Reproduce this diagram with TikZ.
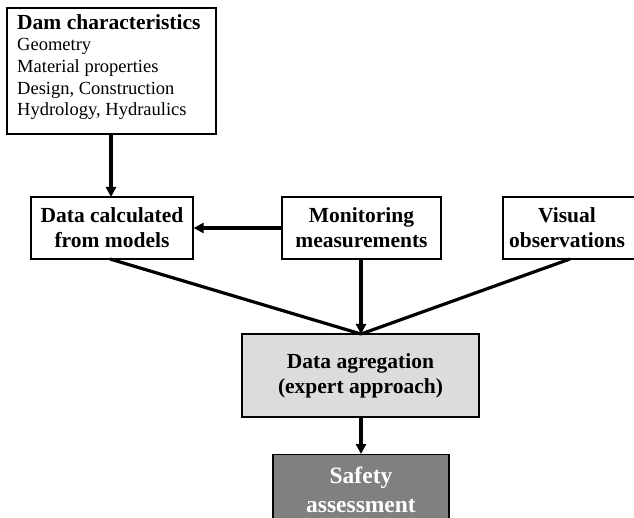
\documentclass[tikz,border=0pt]{standalone}
\usepackage{fontspec}
\setmainfont{Liberation Serif}
\usetikzlibrary{arrows.meta}
\begin{document}
\begin{tikzpicture}[x=1pt,y=-1pt,
  box/.style={draw=black, line width=1.2pt, inner sep=0pt, align=center,
    font=\fontsize{21.5}{25}\selectfont\bfseries},
  conn/.style={line width=3.2pt, -{Triangle[length=10pt,width=10pt]}},
  line/.style={line width=3.2pt}]
\useasboundingbox (0,0) rectangle (634,518);
\clip (0,0) rectangle (634,518);
\definecolor{agg}{RGB}{220,220,220}
\definecolor{safe}{RGB}{128,128,128}
% boxes
\node[box, minimum width=209pt, minimum height=126pt] (dam) at (111.5,71) {};
\node[anchor=north west, inner sep=0pt, align=left, font=\fontsize{18.5}{21.7}\selectfont] (damtxt) at (17,14)
  {{\fontsize{21.5}{24}\selectfont\bfseries Dam characteristics}\\Geometry\\Material properties\\Design, Construction\\Hydrology, Hydraulics};
\node[box, minimum width=162pt, minimum height=62pt] (calc) at (112,228) {Data calculated\\from models};
\node[box, minimum width=159pt, minimum height=62pt] (mon) at (361.5,228) {Monitoring\\measurements};
\node[box, minimum width=160pt, minimum height=62pt] (vis) at (583,228) {};
\node[font=\fontsize{21.5}{25}\selectfont\bfseries, align=center, inner sep=0pt] (vistxt) at (567,228) {Visual\\observations};
\node[box, fill=agg, minimum width=237pt, minimum height=83pt] (agg) at (360.5,375.5) {Data agregation\\(expert approach)};
\node[box, fill=safe, minimum width=176pt, minimum height=90pt, anchor=north] (safe) at (361,454) {};
\node[font=\fontsize{23.5}{29}\selectfont\bfseries, text=white, align=center, inner sep=0pt, anchor=base] (safetxt) at (361,512) {Safety\\assessment};
% connectors
\coordinate (join) at (361,334);
\coordinate (damout) at (111,134);
\coordinate (calcin) at (111,197);
\coordinate (calcout) at (110,259);
\coordinate (visout) at (570,259);
\coordinate (monout) at (361,259);
\draw[conn] (damout) -- (calcin);
\draw[conn] (mon.west) -- (calc.east);
\draw[line] (calcout) -- (join);
\draw[line] (visout) -- (join);
\draw[conn] (monout) -- (join);
\draw[conn] (agg.south -| safe.north) -- (safe.north);
\end{tikzpicture}
\end{document}
